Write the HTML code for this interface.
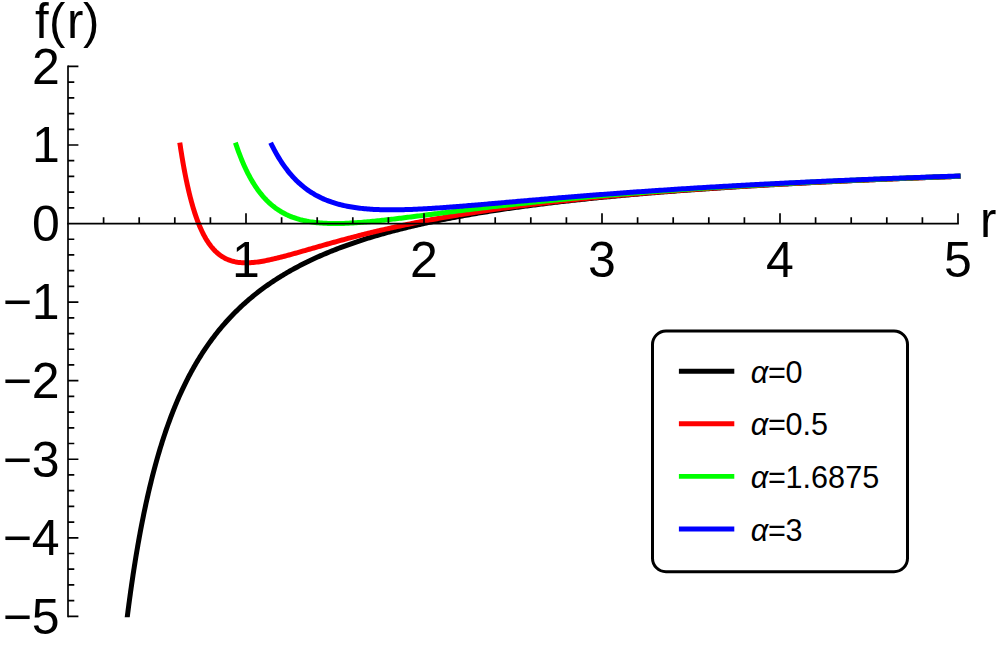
<!DOCTYPE html>
<html><head><meta charset="utf-8"><title>f(r)</title>
<style>
html,body{margin:0;padding:0;background:#fff;overflow:hidden;}
svg{display:block;font-family:"Liberation Sans",sans-serif;}
</style></head><body>
<svg width="997" height="645" viewBox="0 0 997 645">
<defs><clipPath id="c"><rect x="0" y="0" width="997" height="617.3"/></clipPath>
</defs>
<rect width="997" height="645" fill="#fff"/>
<g fill="none" stroke-width="5" stroke-linecap="square" stroke-linejoin="round">
<path stroke="#000" clip-path="url(#c)" d="M126.98,619.20L127.16,617.70L127.36,616.17L127.55,614.60L127.76,612.99L127.96,611.44L128.16,609.89L128.35,608.39L128.56,606.78L128.76,605.26L128.97,603.67L129.20,601.99L129.40,600.47L129.62,598.89L129.84,597.25L130.07,595.56L130.28,594.06L130.49,592.53L130.71,590.97L130.94,589.36L131.17,587.73L131.41,586.05L131.65,584.35L131.91,582.61L132.17,580.84L132.39,579.34L132.61,577.82L132.84,576.29L133.08,574.73L133.32,573.15L133.56,571.55L133.81,569.94L134.07,568.31L134.33,566.66L134.59,565.00L134.86,563.32L135.13,561.62L135.40,559.91L135.69,558.18L135.97,556.45L136.26,554.69L136.56,552.93L136.86,551.15L137.16,549.37L137.47,547.57L137.78,545.76L138.10,543.94L138.43,542.11L138.75,540.27L139.02,538.79L139.29,537.31L139.56,535.82L139.83,534.33L140.11,532.83L140.39,531.33L140.67,529.83L140.96,528.32L141.25,526.81L141.54,525.29L141.83,523.77L142.13,522.25L142.43,520.73L142.74,519.20L143.04,517.67L143.35,516.14L143.67,514.60L143.98,513.07L144.30,511.53L144.62,509.99L144.95,508.45L145.27,506.91L145.60,505.37L145.94,503.83L146.27,502.29L146.61,500.75L146.96,499.20L147.30,497.66L147.65,496.12L148.00,494.58L148.35,493.04L148.71,491.50L149.07,489.96L149.43,488.42L149.80,486.89L150.17,485.35L150.54,483.82L150.92,482.29L151.29,480.76L151.67,479.23L152.06,477.71L152.44,476.18L152.83,474.66L153.23,473.14L153.62,471.63L154.02,470.12L154.42,468.61L154.83,467.10L155.23,465.59L155.64,464.09L156.06,462.60L156.47,461.10L156.89,459.61L157.31,458.12L157.74,456.64L158.17,455.16L158.60,453.69L159.03,452.22L159.47,450.75L159.91,449.29L160.35,447.83L160.80,446.37L161.25,444.92L161.70,443.48L162.15,442.03L162.61,440.60L163.07,439.17L163.53,437.74L164.12,435.96L164.71,434.19L165.30,432.43L165.90,430.68L166.50,428.93L167.10,427.19L167.71,425.46L168.33,423.74L168.95,422.03L169.58,420.32L170.21,418.63L170.84,416.94L171.48,415.26L172.12,413.59L172.77,411.93L173.42,410.28L174.08,408.63L174.74,407.00L175.41,405.37L176.08,403.75L176.76,402.14L177.44,400.55L178.12,398.96L178.81,397.37L179.51,395.80L180.21,394.24L180.91,392.69L181.62,391.14L182.33,389.61L183.05,388.08L183.77,386.57L184.50,385.06L185.23,383.56L185.96,382.07L186.70,380.59L187.45,379.13L188.20,377.66L188.95,376.21L189.71,374.77L190.48,373.34L191.24,371.92L192.02,370.50L192.80,369.10L193.58,367.70L194.36,366.31L195.16,364.94L195.95,363.57L196.75,362.21L197.56,360.86L198.37,359.52L199.18,358.19L200.00,356.86L200.82,355.55L201.65,354.24L202.49,352.95L203.32,351.66L204.17,350.38L205.01,349.11L205.86,347.85L206.72,346.60L207.58,345.36L208.45,344.12L209.32,342.90L210.37,341.44L211.42,339.99L212.49,338.55L213.56,337.13L214.63,335.72L215.72,334.32L216.81,332.94L217.90,331.56L219.01,330.20L220.12,328.85L221.23,327.51L222.36,326.18L223.48,324.86L224.62,323.56L225.76,322.26L226.91,320.98L228.07,319.71L229.23,318.45L230.40,317.20L231.58,315.96L232.76,314.73L233.95,313.52L235.15,312.31L236.35,311.11L237.56,309.93L238.78,308.75L240.00,307.59L241.23,306.44L242.47,305.29L243.71,304.16L244.96,303.03L246.22,301.92L247.48,300.82L248.75,299.72L250.02,298.64L251.31,297.56L252.60,296.50L253.89,295.44L255.20,294.39L256.51,293.35L257.82,292.33L259.14,291.31L260.47,290.29L261.81,289.29L263.15,288.30L264.50,287.32L265.86,286.34L267.22,285.37L268.59,284.42L269.97,283.47L271.35,282.52L272.74,281.59L274.13,280.67L275.54,279.75L276.95,278.84L278.36,277.94L279.78,277.05L281.21,276.16L282.65,275.28L284.09,274.41L285.54,273.55L287.00,272.70L288.46,271.85L289.93,271.01L291.40,270.18L292.89,269.35L294.38,268.53L295.87,267.72L297.37,266.92L298.88,266.12L300.40,265.33L301.92,264.55L303.45,263.77L304.99,263.00L306.53,262.24L308.08,261.48L309.63,260.73L311.19,259.99L312.76,259.25L314.34,258.52L315.92,257.80L317.51,257.08L319.11,256.37L320.71,255.66L322.32,254.96L323.93,254.27L325.55,253.58L327.18,252.90L328.82,252.22L330.46,251.55L332.11,250.88L333.76,250.22L335.43,249.57L337.10,248.92L338.77,248.28L340.45,247.64L341.86,247.11L343.27,246.59L344.69,246.07L346.11,245.55L347.53,245.04L348.96,244.53L350.40,244.03L351.84,243.52L353.28,243.02L354.73,242.53L356.18,242.04L357.64,241.55L359.10,241.06L360.57,240.58L362.04,240.10L363.51,239.63L365.00,239.16L366.48,238.69L367.97,238.22L369.47,237.76L370.96,237.30L372.47,236.85L373.98,236.39L375.49,235.94L377.01,235.50L378.53,235.05L380.06,234.61L381.59,234.18L383.12,233.74L384.66,233.31L386.21,232.88L387.76,232.45L389.31,232.03L390.87,231.61L392.44,231.19L394.01,230.78L395.58,230.37L397.16,229.96L398.74,229.55L400.33,229.15L401.92,228.75L403.51,228.35L405.11,227.95L406.72,227.56L408.33,227.17L409.94,226.78L411.56,226.39L413.19,226.01L414.82,225.63L416.45,225.25L418.09,224.88L419.73,224.50L421.38,224.13L423.03,223.77L424.68,223.40L426.35,223.04L428.01,222.67L429.68,222.32L431.36,221.96L433.03,221.61L434.72,221.25L436.41,220.90L438.10,220.56L439.80,220.21L441.50,219.87L443.21,219.53L444.92,219.19L446.64,218.85L448.36,218.52L450.08,218.19L451.81,217.86L453.55,217.53L455.29,217.20L457.03,216.88L458.78,216.56L460.53,216.24L462.29,215.92L464.05,215.61L465.82,215.29L467.59,214.98L469.37,214.67L471.15,214.36L472.93,214.06L474.72,213.75L476.52,213.45L478.32,213.15L480.12,212.85L481.93,212.56L483.74,212.26L485.56,211.97L487.39,211.68L489.21,211.39L491.04,211.10L492.88,210.81L494.72,210.53L496.57,210.25L498.42,209.97L499.90,209.74L501.39,209.52L502.88,209.30L504.37,209.08L505.86,208.86L507.36,208.64L508.86,208.43L510.37,208.21L511.88,208.00L513.39,207.78L514.90,207.57L516.41,207.36L517.93,207.15L519.46,206.94L520.98,206.73L522.51,206.52L524.04,206.32L525.57,206.11L527.11,205.91L528.65,205.70L530.19,205.50L531.74,205.30L533.29,205.10L534.84,204.90L536.39,204.70L537.95,204.50L539.51,204.30L541.07,204.11L542.64,203.91L544.21,203.72L545.78,203.53L547.36,203.33L548.94,203.14L550.52,202.95L552.10,202.76L553.69,202.57L555.28,202.39L556.87,202.20L558.47,202.01L560.06,201.83L561.67,201.64L563.27,201.46L564.88,201.28L566.49,201.09L568.10,200.91L569.72,200.73L571.34,200.55L572.96,200.38L574.59,200.20L576.22,200.02L577.85,199.84L579.48,199.67L581.12,199.49L582.76,199.32L584.40,199.15L586.05,198.98L587.70,198.80L589.35,198.63L591.00,198.46L592.66,198.30L594.32,198.13L595.99,197.96L597.65,197.79L599.32,197.63L601.00,197.46L602.67,197.30L604.35,197.13L606.03,196.97L607.72,196.81L609.41,196.65L611.10,196.49L612.79,196.33L614.49,196.17L616.18,196.01L617.89,195.85L619.59,195.69L621.30,195.54L623.01,195.38L624.73,195.23L626.44,195.07L628.16,194.92L629.89,194.76L631.61,194.61L633.34,194.46L635.07,194.31L636.81,194.16L638.55,194.01L640.29,193.86L642.03,193.71L643.78,193.56L645.53,193.42L647.28,193.27L649.03,193.12L650.79,192.98L652.55,192.83L654.32,192.69L656.09,192.55L657.86,192.40L659.63,192.26L661.41,192.12L663.19,191.98L664.97,191.84L666.75,191.70L668.54,191.56L670.33,191.42L672.13,191.28L673.92,191.15L675.72,191.01L677.53,190.87L679.33,190.74L681.14,190.60L682.95,190.47L684.77,190.34L686.58,190.20L688.40,190.07L690.23,189.94L692.06,189.81L693.88,189.67L695.72,189.54L697.55,189.41L699.39,189.28L701.23,189.16L703.08,189.03L704.92,188.90L706.77,188.77L708.63,188.65L710.48,188.52L712.34,188.39L714.20,188.27L716.07,188.14L717.94,188.02L719.81,187.90L721.68,187.77L723.56,187.65L725.44,187.53L727.32,187.41L729.21,187.29L731.09,187.17L732.99,187.05L734.88,186.93L736.78,186.81L738.68,186.69L740.58,186.57L742.49,186.45L744.40,186.34L746.31,186.22L748.23,186.10L750.14,185.99L752.06,185.87L753.99,185.76L755.92,185.65L757.85,185.53L759.78,185.42L761.71,185.31L763.65,185.19L765.60,185.08L767.54,184.97L769.49,184.86L771.44,184.75L773.39,184.64L775.35,184.53L777.31,184.42L779.27,184.31L781.24,184.20L783.20,184.09L785.18,183.99L787.15,183.88L789.13,183.77L791.11,183.67L793.09,183.56L795.08,183.46L797.07,183.35L799.06,183.25L801.05,183.14L802.55,183.06L804.05,182.99L805.55,182.91L807.06,182.83L808.56,182.76L810.07,182.68L811.58,182.60L813.09,182.53L814.60,182.45L816.11,182.37L817.63,182.30L819.14,182.22L820.66,182.15L822.18,182.07L823.70,182.00L825.22,181.92L826.75,181.85L828.28,181.78L829.80,181.70L831.33,181.63L832.87,181.56L834.40,181.48L835.93,181.41L837.47,181.34L839.01,181.26L840.55,181.19L842.09,181.12L843.63,181.05L845.18,180.98L846.72,180.90L848.27,180.83L849.82,180.76L851.37,180.69L852.93,180.62L854.48,180.55L856.04,180.48L857.60,180.41L859.16,180.34L860.72,180.27L862.28,180.20L863.84,180.13L865.41,180.06L866.98,179.99L868.55,179.93L870.12,179.86L871.69,179.79L873.27,179.72L874.84,179.65L876.42,179.58L878.00,179.52L879.58,179.45L881.17,179.38L882.75,179.32L884.34,179.25L885.93,179.18L887.52,179.12L889.11,179.05L890.70,178.98L892.29,178.92L893.89,178.85L895.49,178.79L897.09,178.72L898.69,178.66L900.29,178.59L901.90,178.53L903.50,178.46L905.11,178.40L906.72,178.34L908.33,178.27L909.95,178.21L911.56,178.14L913.18,178.08L914.79,178.02L916.41,177.95L918.04,177.89L919.66,177.83L921.28,177.77L922.91,177.70L924.54,177.64L926.17,177.58L927.80,177.52L929.43,177.46L931.07,177.39L932.70,177.33L934.34,177.27L935.98,177.21L937.62,177.15L939.26,177.09L940.91,177.03L942.55,176.97L944.20,176.91L945.85,176.85L947.50,176.79L949.16,176.73L950.81,176.67L952.47,176.61L954.13,176.55L955.78,176.49L957.45,176.43L958.00,176.41"/>
<path stroke="#f00" d="M180.13,144.99L180.36,146.48L180.59,148.03L180.83,149.58L181.07,151.08L181.32,152.65L181.57,154.23L181.83,155.80L182.08,157.32L182.35,158.92L182.60,160.43L182.87,162.00L183.16,163.63L183.42,165.12L183.70,166.65L183.98,168.22L184.28,169.82L184.59,171.46L184.91,173.13L185.20,174.61L185.50,176.12L185.80,177.64L186.12,179.18L186.44,180.73L186.77,182.30L187.11,183.88L187.46,185.47L187.81,187.06L188.18,188.67L188.55,190.28L188.93,191.90L189.32,193.51L189.72,195.13L190.13,196.75L190.55,198.37L190.97,199.98L191.40,201.59L191.85,203.19L192.30,204.79L192.75,206.38L193.22,207.95L193.70,209.52L194.18,211.08L194.67,212.62L195.17,214.15L195.68,215.66L196.20,217.16L196.73,218.64L197.26,220.10L197.80,221.55L198.35,222.97L198.91,224.37L199.56,225.95L200.23,227.50L200.90,229.02L201.58,230.52L202.28,231.98L202.98,233.40L203.70,234.80L204.43,236.16L205.17,237.49L206.01,238.94L206.87,240.35L207.74,241.72L208.63,243.04L209.53,244.32L210.44,245.55L211.37,246.73L212.42,248.00L213.49,249.21L214.57,250.36L215.67,251.46L216.79,252.50L217.92,253.48L219.19,254.50L220.48,255.46L221.79,256.35L223.12,257.18L224.47,257.95L225.84,258.65L227.24,259.29L228.65,259.88L230.09,260.41L231.54,260.88L233.02,261.29L234.52,261.66L236.04,261.97L237.58,262.23L239.14,262.44L240.72,262.61L242.33,262.72L243.95,262.80L245.60,262.83L247.11,262.82L248.64,262.78L250.19,262.71L251.75,262.60L253.34,262.47L254.94,262.31L256.55,262.12L258.19,261.90L259.67,261.69L261.17,261.45L262.69,261.20L264.22,260.92L265.76,260.63L267.31,260.32L268.88,260.00L270.47,259.66L272.07,259.30L273.68,258.93L275.30,258.55L276.94,258.15L278.41,257.79L279.89,257.42L281.39,257.04L282.89,256.65L284.40,256.25L285.93,255.84L287.46,255.43L289.01,255.01L290.57,254.58L292.14,254.14L293.72,253.70L295.31,253.26L296.91,252.80L298.53,252.35L300.15,251.88L301.79,251.42L303.43,250.95L304.88,250.53L306.34,250.11L307.81,249.69L309.28,249.27L310.77,248.84L312.26,248.41L313.76,247.98L315.27,247.55L316.79,247.11L318.31,246.68L319.85,246.24L321.39,245.80L322.94,245.36L324.50,244.91L326.07,244.47L327.65,244.03L329.23,243.58L330.83,243.14L332.43,242.69L334.04,242.24L335.66,241.80L337.29,241.35L338.93,240.90L340.57,240.45L342.22,240.00L343.89,239.56L345.56,239.11L347.24,238.66L348.92,238.21L350.38,237.83L351.83,237.45L353.30,237.07L354.77,236.68L356.25,236.30L357.73,235.92L359.22,235.54L360.72,235.16L362.22,234.78L363.73,234.40L365.25,234.03L366.77,233.65L368.30,233.27L369.83,232.90L371.37,232.52L372.92,232.15L374.47,231.78L376.03,231.40L377.59,231.03L379.17,230.66L380.74,230.29L382.33,229.93L383.92,229.56L385.51,229.19L387.12,228.83L388.72,228.46L390.34,228.10L391.96,227.74L393.59,227.38L395.22,227.02L396.86,226.66L398.51,226.30L400.16,225.95L401.82,225.59L403.48,225.24L405.15,224.89L406.83,224.54L408.51,224.19L410.20,223.84L411.90,223.50L413.60,223.15L415.31,222.81L417.02,222.46L418.74,222.12L420.47,221.78L422.20,221.44L423.94,221.11L425.69,220.77L427.44,220.44L429.20,220.10L430.96,219.77L432.44,219.50L433.92,219.22L435.40,218.95L436.89,218.68L438.38,218.40L439.88,218.13L441.38,217.86L442.89,217.60L444.40,217.33L445.91,217.06L447.43,216.80L448.95,216.53L450.48,216.27L452.01,216.01L453.54,215.75L455.08,215.48L456.63,215.23L458.18,214.97L459.73,214.71L461.29,214.45L462.85,214.20L464.41,213.94L465.98,213.69L467.56,213.44L469.14,213.19L470.72,212.94L472.31,212.69L473.90,212.44L475.50,212.19L477.10,211.95L478.70,211.70L480.31,211.46L481.92,211.21L483.54,210.97L485.16,210.73L486.79,210.49L488.42,210.25L490.06,210.01L491.70,209.77L493.34,209.54L494.99,209.30L496.64,209.07L498.30,208.84L499.96,208.60L501.62,208.37L503.29,208.14L504.97,207.91L506.64,207.68L508.33,207.46L510.01,207.23L511.70,207.00L513.40,206.78L515.10,206.56L516.80,206.33L518.51,206.11L520.23,205.89L521.94,205.67L523.66,205.45L525.39,205.23L527.12,205.02L528.86,204.80L530.59,204.59L532.34,204.37L534.08,204.16L535.84,203.95L537.59,203.74L539.35,203.53L541.12,203.32L542.89,203.11L544.66,202.90L546.44,202.69L548.22,202.49L550.01,202.28L551.80,202.08L553.59,201.88L555.39,201.67L557.20,201.47L559.00,201.27L560.82,201.07L562.63,200.87L564.45,200.68L566.28,200.48L568.11,200.28L569.94,200.09L571.78,199.89L573.62,199.70L575.47,199.51L577.32,199.32L579.18,199.12L581.04,198.93L582.90,198.74L584.40,198.59L585.89,198.44L587.39,198.29L588.90,198.15L590.40,198.00L591.91,197.85L593.42,197.70L594.93,197.55L596.45,197.41L597.97,197.26L599.49,197.12L601.02,196.97L602.55,196.83L604.08,196.68L605.61,196.54L607.15,196.40L608.68,196.25L610.23,196.11L611.77,195.97L613.32,195.83L614.87,195.69L616.42,195.55L617.98,195.41L619.53,195.27L621.09,195.13L622.66,195.00L624.22,194.86L625.79,194.72L627.37,194.59L628.94,194.45L630.52,194.31L632.10,194.18L633.68,194.05L635.27,193.91L636.86,193.78L638.45,193.64L640.04,193.51L641.64,193.38L643.24,193.25L644.84,193.12L646.45,192.99L648.05,192.86L649.66,192.73L651.28,192.60L652.89,192.47L654.51,192.34L656.13,192.21L657.76,192.09L659.39,191.96L661.02,191.83L662.65,191.71L664.29,191.58L665.92,191.46L667.56,191.33L669.21,191.21L670.86,191.08L672.50,190.96L674.16,190.84L675.81,190.71L677.47,190.59L679.13,190.47L680.79,190.35L682.46,190.23L684.13,190.11L685.80,189.99L687.47,189.87L689.15,189.75L690.83,189.63L692.51,189.51L694.20,189.40L695.89,189.28L697.58,189.16L699.27,189.04L700.97,188.93L702.67,188.81L704.37,188.70L706.08,188.58L707.78,188.47L709.49,188.35L711.21,188.24L712.92,188.13L714.64,188.01L716.36,187.90L718.09,187.79L719.81,187.68L721.54,187.57L723.28,187.46L725.01,187.35L726.75,187.24L728.49,187.13L730.23,187.02L731.98,186.91L733.73,186.80L735.48,186.69L737.24,186.58L738.99,186.48L740.75,186.37L742.52,186.26L744.28,186.16L746.05,186.05L747.82,185.94L749.60,185.84L751.37,185.73L753.15,185.63L754.93,185.53L756.72,185.42L758.51,185.32L760.30,185.22L762.09,185.11L763.89,185.01L765.69,184.91L767.49,184.81L769.29,184.71L771.10,184.61L772.91,184.51L774.72,184.41L776.54,184.31L778.36,184.21L780.18,184.11L782.00,184.01L783.83,183.91L785.66,183.81L787.49,183.71L789.33,183.62L791.16,183.52L793.00,183.42L794.85,183.33L796.69,183.23L798.54,183.13L800.39,183.04L802.25,182.94L804.10,182.85L805.96,182.76L807.83,182.66L809.69,182.57L811.56,182.47L813.43,182.38L815.30,182.29L817.18,182.20L819.06,182.10L820.94,182.01L822.83,181.92L824.71,181.83L826.60,181.74L828.50,181.65L830.39,181.56L832.29,181.47L834.19,181.38L836.10,181.29L838.00,181.20L839.91,181.11L841.83,181.02L843.74,180.93L845.66,180.85L847.58,180.76L849.50,180.67L851.43,180.58L853.36,180.50L855.29,180.41L857.23,180.32L859.16,180.24L861.10,180.15L863.05,180.07L864.99,179.98L866.94,179.90L868.89,179.81L870.84,179.73L872.80,179.65L874.76,179.56L876.72,179.48L878.69,179.40L880.66,179.31L882.63,179.23L884.60,179.15L886.58,179.07L888.55,178.99L890.54,178.91L892.52,178.82L894.51,178.74L896.50,178.66L898.49,178.58L900.49,178.50L902.48,178.42L903.98,178.36L905.49,178.30L906.99,178.24L908.49,178.19L910.00,178.13L911.51,178.07L913.02,178.01L914.53,177.95L916.04,177.89L917.56,177.83L919.07,177.78L920.59,177.72L922.11,177.66L923.63,177.60L925.15,177.55L926.68,177.49L928.20,177.43L929.73,177.37L931.26,177.32L932.79,177.26L934.32,177.20L935.85,177.15L937.39,177.09L938.92,177.03L940.46,176.98L942.00,176.92L943.54,176.87L945.09,176.81L946.63,176.75L948.17,176.70L949.72,176.64L951.27,176.59L952.82,176.53L954.37,176.48L955.93,176.42L957.48,176.37L958.00,176.35"/>
<path stroke="#0f0" d="M236.20,144.99L236.69,146.43L237.19,147.87L237.71,149.34L238.23,150.79L238.77,152.28L239.31,153.73L239.87,155.21L240.44,156.68L241.02,158.12L241.58,159.52L242.18,160.97L242.76,162.35L243.37,163.77L244.01,165.22L244.68,166.70L245.31,168.08L245.97,169.49L246.66,170.90L247.37,172.33L248.10,173.77L248.85,175.22L249.56,176.55L250.29,177.89L251.04,179.22L251.81,180.55L252.60,181.88L253.40,183.21L254.23,184.52L255.08,185.83L255.94,187.13L256.83,188.42L257.73,189.70L258.66,190.96L259.60,192.21L260.56,193.44L261.55,194.65L262.55,195.85L263.57,197.02L264.61,198.18L265.67,199.31L266.75,200.42L267.85,201.50L268.97,202.57L270.11,203.61L271.26,204.62L272.44,205.61L273.64,206.57L274.85,207.50L276.09,208.41L277.34,209.29L278.62,210.15L279.91,210.97L281.22,211.77L282.55,212.54L283.91,213.28L285.28,213.99L286.67,214.68L288.08,215.34L289.51,215.97L290.95,216.57L292.42,217.15L293.91,217.69L295.42,218.21L296.94,218.71L298.49,219.17L300.05,219.62L301.64,220.03L303.10,220.39L304.57,220.72L306.06,221.03L307.56,221.33L309.09,221.60L310.62,221.86L312.18,222.09L313.75,222.31L315.33,222.50L316.94,222.68L318.55,222.84L320.19,222.99L321.84,223.11L323.34,223.21L324.85,223.30L326.37,223.37L327.91,223.43L329.46,223.48L331.02,223.51L332.60,223.54L334.19,223.55L335.79,223.55L337.41,223.54L339.04,223.52L340.68,223.48L342.33,223.44L344.00,223.39L345.68,223.32L347.19,223.26L348.70,223.19L350.23,223.11L351.76,223.02L353.31,222.93L354.87,222.83L356.43,222.72L358.01,222.61L359.60,222.49L361.19,222.37L362.80,222.24L364.42,222.10L366.05,221.96L367.69,221.81L369.34,221.66L370.99,221.50L372.66,221.34L374.34,221.17L376.03,221.00L377.73,220.82L379.23,220.67L380.73,220.51L382.24,220.34L383.76,220.17L385.29,220.00L386.83,219.83L388.37,219.65L389.92,219.47L391.48,219.29L393.05,219.11L394.62,218.92L396.20,218.73L397.79,218.54L399.39,218.35L401.00,218.15L402.61,217.96L404.24,217.76L405.86,217.55L407.50,217.35L409.15,217.14L410.80,216.94L412.46,216.73L414.13,216.52L415.81,216.31L417.49,216.09L419.19,215.88L420.89,215.66L422.59,215.44L424.31,215.22L426.03,215.00L427.77,214.78L429.26,214.59L430.75,214.40L432.26,214.21L433.76,214.02L435.28,213.82L436.80,213.63L438.32,213.44L439.85,213.24L441.39,213.04L442.93,212.85L444.48,212.65L446.04,212.45L447.60,212.26L449.16,212.06L450.74,211.86L452.31,211.66L453.90,211.46L455.48,211.26L457.08,211.06L458.68,210.86L460.29,210.66L461.90,210.46L463.52,210.26L465.14,210.06L466.77,209.86L468.41,209.66L470.05,209.46L471.69,209.26L473.35,209.06L475.00,208.86L476.67,208.65L478.34,208.45L480.01,208.25L481.70,208.05L483.38,207.85L485.08,207.65L486.77,207.45L488.48,207.25L490.19,207.04L491.91,206.84L493.63,206.64L495.35,206.44L497.09,206.24L498.83,206.04L500.57,205.84L502.32,205.64L504.08,205.44L505.84,205.24L507.61,205.05L509.38,204.85L511.16,204.65L512.95,204.45L514.44,204.28L515.94,204.12L517.44,203.96L518.94,203.79L520.45,203.63L521.96,203.46L523.48,203.30L525.00,203.14L526.53,202.97L528.05,202.81L529.59,202.65L531.12,202.49L532.66,202.32L534.21,202.16L535.76,202.00L537.31,201.84L538.86,201.68L540.43,201.52L541.99,201.36L543.56,201.20L545.13,201.04L546.71,200.88L548.29,200.72L549.87,200.56L551.46,200.40L553.05,200.24L554.65,200.09L556.25,199.93L557.86,199.77L559.46,199.61L561.08,199.46L562.69,199.30L564.31,199.15L565.94,198.99L567.57,198.84L569.20,198.68L570.84,198.53L572.48,198.37L574.12,198.22L575.77,198.07L577.43,197.91L579.08,197.76L580.74,197.61L582.41,197.46L584.08,197.31L585.75,197.16L587.43,197.00L589.11,196.85L590.79,196.70L592.48,196.56L594.17,196.41L595.87,196.26L597.57,196.11L599.28,195.96L600.99,195.81L602.70,195.67L604.42,195.52L606.14,195.37L607.86,195.23L609.59,195.08L611.32,194.94L613.06,194.79L614.80,194.65L616.55,194.50L618.30,194.36L620.05,194.22L621.81,194.08L623.57,193.93L625.33,193.79L627.10,193.65L628.88,193.51L630.65,193.37L632.43,193.23L634.22,193.09L636.01,192.95L637.80,192.81L639.60,192.67L641.40,192.53L643.21,192.40L645.01,192.26L646.83,192.12L648.65,191.99L650.47,191.85L652.29,191.71L654.12,191.58L655.96,191.44L657.79,191.31L659.63,191.18L661.48,191.04L663.33,190.91L665.18,190.78L667.04,190.64L668.90,190.51L670.77,190.38L672.64,190.25L674.13,190.14L675.64,190.04L677.14,189.94L678.65,189.83L680.15,189.73L681.67,189.63L683.18,189.52L684.70,189.42L686.22,189.32L687.74,189.22L689.26,189.11L690.79,189.01L692.32,188.91L693.85,188.81L695.38,188.71L696.92,188.61L698.46,188.51L700.00,188.41L701.55,188.31L703.09,188.21L704.64,188.11L706.20,188.01L707.75,187.91L709.31,187.81L710.87,187.71L712.43,187.62L714.00,187.52L715.56,187.42L717.14,187.32L718.71,187.23L720.28,187.13L721.86,187.03L723.44,186.94L725.03,186.84L726.61,186.75L728.20,186.65L729.79,186.56L731.38,186.46L732.98,186.37L734.58,186.27L736.18,186.18L737.78,186.08L739.39,185.99L741.00,185.90L742.61,185.80L744.22,185.71L745.84,185.62L747.46,185.53L749.08,185.43L750.71,185.34L752.33,185.25L753.96,185.16L755.60,185.07L757.23,184.98L758.87,184.89L760.51,184.80L762.15,184.71L763.79,184.62L765.44,184.53L767.09,184.44L768.74,184.35L770.40,184.26L772.06,184.17L773.72,184.08L775.38,184.00L777.05,183.91L778.71,183.82L780.38,183.73L782.06,183.64L783.73,183.56L785.41,183.47L787.09,183.38L788.78,183.30L790.46,183.21L792.15,183.13L793.84,183.04L795.53,182.96L797.23,182.87L798.93,182.79L800.63,182.70L802.33,182.62L804.04,182.53L805.75,182.45L807.46,182.37L809.18,182.28L810.89,182.20L812.61,182.12L814.33,182.03L816.06,181.95L817.79,181.87L819.52,181.79L821.25,181.71L822.98,181.62L824.72,181.54L826.46,181.46L828.20,181.38L829.95,181.30L831.69,181.22L833.45,181.14L835.20,181.06L836.95,180.98L838.71,180.90L840.47,180.82L842.23,180.74L844.00,180.66L845.77,180.58L847.54,180.51L849.31,180.43L851.09,180.35L852.87,180.27L854.65,180.20L856.43,180.12L858.22,180.04L860.01,179.96L861.80,179.89L863.59,179.81L865.39,179.73L867.19,179.66L868.99,179.58L870.79,179.51L872.60,179.43L874.41,179.36L876.22,179.28L878.03,179.21L879.85,179.13L881.67,179.06L883.49,178.98L885.32,178.91L887.14,178.84L888.97,178.76L890.81,178.69L892.64,178.62L894.48,178.54L896.32,178.47L898.16,178.40L900.01,178.33L901.85,178.25L903.70,178.18L905.56,178.11L907.41,178.04L909.27,177.97L911.13,177.90L913.00,177.83L914.86,177.76L916.73,177.69L918.60,177.62L920.47,177.55L922.35,177.48L924.23,177.41L926.11,177.34L927.99,177.27L929.88,177.20L931.77,177.13L933.66,177.06L935.55,176.99L937.45,176.92L939.35,176.86L941.25,176.79L943.15,176.72L945.06,176.65L946.97,176.59L948.88,176.52L950.80,176.45L952.71,176.38L954.63,176.32L956.56,176.25L958.00,176.20"/>
<path stroke="#00f" d="M271.76,144.99L272.43,146.34L273.13,147.70L273.84,149.06L274.54,150.39L275.29,151.76L276.04,153.13L276.80,154.46L277.57,155.79L278.35,157.11L279.14,158.40L279.97,159.73L280.79,161.02L281.65,162.34L282.49,163.60L283.36,164.87L284.27,166.17L285.15,167.38L286.06,168.61L287.00,169.85L287.97,171.08L288.97,172.33L290.00,173.57L290.99,174.72L292.00,175.86L293.03,177.01L294.09,178.14L295.18,179.27L296.29,180.39L297.43,181.50L298.59,182.59L299.78,183.67L300.99,184.74L302.14,185.71L303.31,186.67L304.49,187.61L305.70,188.54L306.94,189.45L308.19,190.34L309.47,191.22L310.77,192.08L312.09,192.92L313.43,193.73L314.79,194.53L316.18,195.31L317.59,196.07L319.02,196.81L320.47,197.53L321.94,198.23L323.31,198.85L324.70,199.45L326.11,200.04L327.54,200.60L328.98,201.15L330.44,201.68L331.92,202.20L333.42,202.69L334.94,203.17L336.48,203.62L338.04,204.06L339.61,204.49L341.20,204.89L342.66,205.24L344.14,205.58L345.64,205.90L347.15,206.21L348.67,206.51L350.21,206.79L351.77,207.06L353.34,207.31L354.92,207.55L356.52,207.78L358.14,208.00L359.77,208.20L361.42,208.39L362.91,208.55L364.42,208.69L365.94,208.83L367.47,208.96L369.01,209.08L370.57,209.19L372.14,209.29L373.72,209.39L375.32,209.47L376.92,209.54L378.54,209.61L380.17,209.67L381.81,209.72L383.47,209.76L385.14,209.79L386.82,209.81L388.32,209.83L389.84,209.84L391.36,209.84L392.89,209.84L394.44,209.83L395.99,209.82L397.55,209.80L399.12,209.77L400.71,209.74L402.30,209.71L403.90,209.67L405.51,209.62L407.13,209.57L408.76,209.52L410.40,209.46L412.05,209.39L413.71,209.32L415.38,209.25L417.06,209.17L418.75,209.09L420.45,209.01L422.16,208.92L423.67,208.84L425.18,208.75L426.70,208.67L428.22,208.58L429.75,208.49L431.30,208.39L432.84,208.29L434.40,208.19L435.96,208.09L437.53,207.99L439.11,207.88L440.70,207.77L442.29,207.66L443.89,207.54L445.50,207.43L447.12,207.31L448.74,207.19L450.37,207.06L452.01,206.94L453.65,206.81L455.31,206.69L456.97,206.56L458.63,206.42L460.31,206.29L461.99,206.16L463.68,206.02L465.38,205.88L467.09,205.74L468.80,205.60L470.52,205.46L472.25,205.31L473.98,205.17L475.73,205.02L477.23,204.90L478.73,204.77L480.24,204.64L481.76,204.51L483.28,204.38L484.81,204.25L486.34,204.12L487.88,203.99L489.42,203.85L490.97,203.72L492.53,203.58L494.09,203.45L495.65,203.31L497.22,203.18L498.80,203.04L500.38,202.90L501.97,202.76L503.56,202.63L505.16,202.49L506.76,202.35L508.37,202.21L509.99,202.07L511.61,201.93L513.24,201.78L514.87,201.64L516.50,201.50L518.15,201.36L519.80,201.21L521.45,201.07L523.11,200.93L524.77,200.78L526.44,200.64L528.12,200.49L529.80,200.35L531.49,200.20L533.18,200.06L534.88,199.91L536.58,199.77L538.29,199.62L540.00,199.48L541.72,199.33L543.45,199.18L545.18,199.04L546.91,198.89L548.65,198.74L550.40,198.60L552.15,198.45L553.91,198.30L555.67,198.16L557.44,198.01L559.22,197.86L561.00,197.71L562.78,197.57L564.57,197.42L566.07,197.30L567.57,197.17L569.07,197.05L570.58,196.93L572.09,196.81L573.61,196.68L575.13,196.56L576.65,196.44L578.18,196.32L579.71,196.19L581.25,196.07L582.78,195.95L584.33,195.83L585.87,195.70L587.42,195.58L588.98,195.46L590.53,195.34L592.10,195.22L593.66,195.10L595.23,194.97L596.80,194.85L598.38,194.73L599.96,194.61L601.55,194.49L603.13,194.37L604.73,194.25L606.32,194.13L607.92,194.00L609.52,193.88L611.13,193.76L612.74,193.64L614.36,193.52L615.98,193.40L617.60,193.28L619.23,193.16L620.86,193.04L622.49,192.93L624.13,192.81L625.77,192.69L627.41,192.57L629.06,192.45L630.72,192.33L632.37,192.21L634.03,192.09L635.70,191.98L637.37,191.86L639.04,191.74L640.71,191.62L642.39,191.51L644.08,191.39L645.77,191.27L647.46,191.16L649.15,191.04L650.85,190.92L652.55,190.81L654.26,190.69L655.97,190.58L657.68,190.46L659.40,190.35L661.12,190.23L662.85,190.12L664.58,190.00L666.31,189.89L668.05,189.77L669.79,189.66L671.53,189.55L673.28,189.43L675.03,189.32L676.79,189.21L678.55,189.09L680.31,188.98L682.08,188.87L683.85,188.76L685.63,188.65L687.41,188.53L689.19,188.42L690.98,188.31L692.77,188.20L694.56,188.09L696.36,187.98L698.16,187.87L699.97,187.76L701.78,187.65L703.59,187.54L705.41,187.43L707.23,187.32L709.05,187.22L710.88,187.11L712.71,187.00L714.55,186.89L716.39,186.79L718.23,186.68L720.08,186.57L721.93,186.46L723.79,186.36L725.65,186.25L727.51,186.15L729.38,186.04L731.25,185.93L732.74,185.85L734.25,185.77L735.75,185.68L737.26,185.60L738.77,185.52L740.28,185.43L741.79,185.35L743.31,185.27L744.83,185.18L746.35,185.10L747.87,185.02L749.40,184.94L750.92,184.85L752.46,184.77L753.99,184.69L755.52,184.61L757.06,184.53L758.60,184.45L760.15,184.37L761.69,184.28L763.24,184.20L764.79,184.12L766.34,184.04L767.90,183.96L769.46,183.88L771.02,183.80L772.58,183.72L774.14,183.64L775.71,183.56L777.28,183.49L778.85,183.41L780.43,183.33L782.01,183.25L783.59,183.17L785.17,183.09L786.75,183.01L788.34,182.94L789.93,182.86L791.52,182.78L793.12,182.70L794.71,182.63L796.31,182.55L797.91,182.47L799.52,182.40L801.12,182.32L802.73,182.24L804.34,182.17L805.96,182.09L807.57,182.01L809.19,181.94L810.81,181.86L812.44,181.79L814.06,181.71L815.69,181.64L817.32,181.56L818.96,181.49L820.59,181.41L822.23,181.34L823.87,181.27L825.52,181.19L827.16,181.12L828.81,181.04L830.46,180.97L832.11,180.90L833.77,180.82L835.43,180.75L837.09,180.68L838.75,180.61L840.41,180.53L842.08,180.46L843.75,180.39L845.42,180.32L847.10,180.24L848.78,180.17L850.46,180.10L852.14,180.03L853.82,179.96L855.51,179.89L857.20,179.82L858.89,179.75L860.59,179.68L862.28,179.61L863.98,179.54L865.68,179.47L867.39,179.40L869.10,179.33L870.80,179.26L872.52,179.19L874.23,179.12L875.95,179.05L877.67,178.98L879.39,178.91L881.11,178.84L882.84,178.78L884.57,178.71L886.30,178.64L888.03,178.57L889.77,178.50L891.50,178.44L893.25,178.37L894.99,178.30L896.73,178.24L898.48,178.17L900.23,178.10L901.99,178.04L903.74,177.97L905.50,177.90L907.26,177.84L909.02,177.77L910.79,177.71L912.56,177.64L914.33,177.57L916.10,177.51L917.87,177.44L919.65,177.38L921.43,177.31L923.21,177.25L925.00,177.19L926.79,177.12L928.58,177.06L930.37,176.99L932.16,176.93L933.96,176.87L935.76,176.80L937.56,176.74L939.36,176.68L941.17,176.61L942.98,176.55L944.79,176.49L946.61,176.42L948.42,176.36L950.24,176.30L952.06,176.24L953.89,176.18L955.71,176.11L957.54,176.05L958.00,176.04"/>
</g>
<g stroke="#000" stroke-width="1.7" fill="none">
<path d="M68.0,65.58V617.20"/>
<path d="M67.15,223.55H958.85"/>
<path d="M103.60,223.55v-6.3M139.20,223.55v-6.3M174.80,223.55v-6.3M210.40,223.55v-6.3M246.00,223.55v-10.4M281.60,223.55v-6.3M317.20,223.55v-6.3M352.80,223.55v-6.3M388.40,223.55v-6.3M424.00,223.55v-10.4M459.60,223.55v-6.3M495.20,223.55v-6.3M530.80,223.55v-6.3M566.40,223.55v-6.3M602.00,223.55v-10.4M637.60,223.55v-6.3M673.20,223.55v-6.3M708.80,223.55v-6.3M744.40,223.55v-6.3M780.00,223.55v-10.4M815.60,223.55v-6.3M851.20,223.55v-6.3M886.80,223.55v-6.3M922.40,223.55v-6.3M958.00,223.55v-10.4M68.00,616.35h10.4M68.00,600.64h6.3M68.00,584.93h6.3M68.00,569.21h6.3M68.00,553.50h6.3M68.00,537.79h10.4M68.00,522.08h6.3M68.00,506.37h6.3M68.00,490.65h6.3M68.00,474.94h6.3M68.00,459.23h10.4M68.00,443.52h6.3M68.00,427.81h6.3M68.00,412.09h6.3M68.00,396.38h6.3M68.00,380.67h10.4M68.00,364.96h6.3M68.00,349.25h6.3M68.00,333.53h6.3M68.00,317.82h6.3M68.00,302.11h10.4M68.00,286.40h6.3M68.00,270.69h6.3M68.00,254.97h6.3M68.00,239.26h6.3M68.00,207.84h6.3M68.00,192.13h6.3M68.00,176.41h6.3M68.00,160.70h6.3M68.00,144.99h10.4M68.00,129.28h6.3M68.00,113.57h6.3M68.00,97.85h6.3M68.00,82.14h6.3M68.00,66.43h10.4"/>
</g>
<g fill="#000" font-family="'Liberation Sans',sans-serif" font-size="50">
<text x="232.10" y="277.10">1</text>
<text x="410.10" y="277.10">2</text>
<text x="588.10" y="277.10">3</text>
<text x="766.10" y="277.10">4</text>
<text x="944.10" y="277.10">5</text>
<text x="59.7" y="633.65" text-anchor="end">−5</text>
<text x="59.7" y="555.09" text-anchor="end">−4</text>
<text x="59.7" y="476.53" text-anchor="end">−3</text>
<text x="59.7" y="397.97" text-anchor="end">−2</text>
<text x="59.7" y="319.41" text-anchor="end">−1</text>
<text x="59.7" y="240.85" text-anchor="end">0</text>
<text x="59.7" y="162.29" text-anchor="end">1</text>
<text x="59.7" y="83.73" text-anchor="end">2</text>
<text x="35 49 66.9 83" y="37.90" font-size="49.2">f(r)</text>
<text x="980.00" y="237.00" font-size="49.2">r</text>
</g>
<rect x="652.5" y="331" width="255" height="240.7" rx="13.5" ry="13.5" fill="#fff" stroke="#000" stroke-width="3"/>
<g fill="#000" font-family="'Liberation Sans',sans-serif" font-size="30.6">
<line x1="678.9" y1="371.20" x2="734.3" y2="371.20" stroke="#000" stroke-width="4.9"/>
<text x="750.8" y="382.70"><tspan font-style="italic">α</tspan><tspan x="768">=</tspan><tspan x="785.6">0</tspan></text>
<line x1="678.9" y1="423.80" x2="734.3" y2="423.80" stroke="#f00" stroke-width="4.9"/>
<text x="750.8" y="435.30"><tspan font-style="italic">α</tspan><tspan x="768">=</tspan><tspan x="785.6">0.5</tspan></text>
<line x1="678.9" y1="476.40" x2="734.3" y2="476.40" stroke="#0f0" stroke-width="4.9"/>
<text x="750.8" y="487.90"><tspan font-style="italic">α</tspan><tspan x="768">=</tspan><tspan x="785.6">1.6875</tspan></text>
<line x1="678.9" y1="529.00" x2="734.3" y2="529.00" stroke="#00f" stroke-width="4.9"/>
<text x="750.8" y="540.50"><tspan font-style="italic">α</tspan><tspan x="768">=</tspan><tspan x="785.6">3</tspan></text>
</g>
</svg>
</body></html>
